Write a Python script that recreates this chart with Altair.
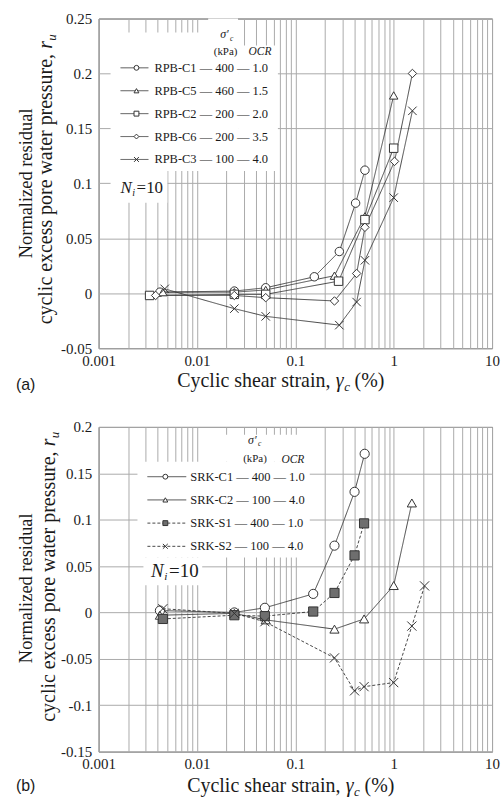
import altair as alt
import pandas as pd

SERIF = "Liberation Serif"
SANS = "Liberation Sans"
INK = "#1a1a1a"
LINE = "#333333"
X_SHAPE = "M-1,-1L1,1M-1,1L1,-1"

# ---------------- panel (a): RPB specimens ----------------
a_names = ["RPB-C1", "RPB-C5", "RPB-C2", "RPB-C6", "RPB-C3"]
a_sigma = ["400", "460", "200", "200", "100"]
a_ocr = ["1.0", "1.5", "2.0", "3.5", "4.0"]
a_strain = [
    [0.0042, 0.024, 0.05, 0.156, 0.28, 0.41, 0.51],
    [0.0045, 0.024, 0.05, 0.25, 0.51, 1.0],
    [0.0033, 0.024, 0.05, 0.275, 0.51, 1.0],
    [0.0038, 0.024, 0.05, 0.25, 0.42, 0.51, 1.02, 1.55],
    [0.0047, 0.024, 0.05, 0.28, 0.42, 0.51, 1.0, 1.55],
]
a_ru = [
    [0.001, 0.002, 0.005, 0.015, 0.038, 0.082, 0.112],
    [0.001, 0.001, 0.003, 0.016, 0.070, 0.180],
    [-0.002, -0.001, -0.001, 0.011, 0.067, 0.132],
    [-0.002, -0.002, -0.004, -0.007, 0.018, 0.060, 0.120, 0.200],
    [0.004, -0.014, -0.021, -0.029, -0.008, 0.030, 0.087, 0.166],
]
a_shapes = ["circle", "triangle-up", "square", "diamond", X_SHAPE]
a_fills = ["white"] * 5
a_dash = [[1, 0]] * 5
a_yticks = [-0.05, 0, 0.05, 0.1, 0.15, 0.2, 0.25]

# ---------------- panel (b): SRK specimens ----------------
b_names = ["SRK-C1", "SRK-C2", "SRK-S1", "SRK-S2"]
b_sigma = ["400", "100", "400", "100"]
b_ocr = ["1.0", "4.0", "1.0", "4.0"]
b_strain = [
    [0.0042, 0.024, 0.049, 0.152, 0.25, 0.40, 0.507],
    [0.0042, 0.024, 0.05, 0.25, 0.50, 1.0, 1.53],
    [0.0045, 0.024, 0.049, 0.152, 0.25, 0.40, 0.50],
    [0.0045, 0.024, 0.049, 0.25, 0.40, 0.50, 1.0, 1.53, 2.06],
]
b_ru = [
    [0.002, 0.000, 0.005, 0.020, 0.072, 0.130, 0.171],
    [-0.003, -0.001, -0.008, -0.018, -0.007, 0.029, 0.118],
    [-0.007, -0.003, -0.004, 0.001, 0.021, 0.0615, 0.096],
    [0.004, -0.001, -0.010, -0.049, -0.0845, -0.080, -0.0756, -0.0147, 0.0286],
]
b_shapes = ["circle", "triangle-up", "square", X_SHAPE]
b_fills = ["white", "white", "#6e6e6e", "white"]
b_dash = [[1, 0], [1, 0], [3, 2], [3, 2]]
b_yticks = [-0.15, -0.1, -0.05, 0, 0.05, 0.1, 0.15, 0.2]

# log-axis grid: every 1..9 multiple of each decade, labels on decades only
XT = [m * 10.0 ** e for e in range(-3, 1) for m in range(1, 10)] + [10.0]
X_LABEL = ("abs(log(datum.value)/LN10 - round(log(datum.value)/LN10)) < 1e-6"
           " ? '' + datum.value : ''")
Y_LABEL = "'' + round(datum.value * 100) / 100"

W = 395


def one():
    return alt.Chart(alt.InlineData(values=[{"k": 0}]))


def text(t, x, y, size, style="normal", align="left", baseline="alphabetic",
         angle=0, font=SERIF):
    kw = dict(text=t, fontSize=size, fontStyle=style, align=align,
              baseline=baseline, font=font, color=INK)
    if angle:
        kw["angle"] = angle
    return one().mark_text(**kw).encode(x=alt.value(x), y=alt.value(y))


def box(x1, x2, y1, y2, opacity=1):
    return one().mark_rect(color="white", opacity=opacity).encode(
        x=alt.value(x1), x2=alt.value(x2), y=alt.value(y1), y2=alt.value(y2))


def panel(names, sigma, ocr, strain, ru, shapes, fills, dashes, ydom, yticks,
          h, lay):
    rows = [{"series": n, "strain": xv, "ru": yv}
            for n, xs, ys in zip(names, strain, ru) for xv, yv in zip(xs, ys)]
    df = pd.DataFrame(rows)

    x_enc = alt.X("strain:Q",
                  scale=alt.Scale(type="log", domain=[0.001, 10], nice=False),
                  axis=alt.Axis(values=XT, labelExpr=X_LABEL, title=None,
                                ticks=False, tickSize=0, domain=False,
                                labelPadding=5, labelFlush=False,
                                labelOverlap=False, labelFont=SERIF,
                                labelFontSize=15, labelColor=INK))
    y_enc = alt.Y("ru:Q", scale=alt.Scale(domain=ydom, nice=False, zero=False),
                  axis=alt.Axis(values=yticks, labelExpr=Y_LABEL, title=None,
                                ticks=False, tickSize=0, domain=False,
                                labelPadding=7, labelFont=SERIF,
                                labelFontSize=15, labelColor=INK))
    base = alt.Chart(df).encode(x=x_enc, y=y_enc)
    lines = base.mark_line(color=LINE, strokeWidth=0.9).encode(
        detail="series:N",
        strokeDash=alt.StrokeDash("series:N",
                                  scale=alt.Scale(domain=names, range=dashes),
                                  legend=None))
    points = base.mark_point(filled=True, stroke=LINE, strokeWidth=1,
                             opacity=1, size=lay["msize"]).encode(
        shape=alt.Shape("series:N", scale=alt.Scale(domain=names, range=shapes),
                        legend=None),
        fill=alt.Fill("series:N", scale=alt.Scale(domain=names, range=fills),
                      legend=None))

    layers = [box(*lay["bbox"], opacity=0)]
    layers += [box(*b) for b in lay["boxes"]]
    layers += [lines, points]

    # legend rows
    lx1, lx2 = lay["line_x"]
    for i, (n, s, o, shp, fil, dsh) in enumerate(
            zip(names, sigma, ocr, shapes, fills, dashes)):
        y = lay["row_y0"] + lay["row_dy"] * i
        layers.append(one().mark_rule(color=LINE, strokeWidth=0.9,
                                      strokeDash=dsh).encode(
            x=alt.value(lx1), x2=alt.value(lx2), y=alt.value(y)))
        layers.append(one().mark_point(shape=shp, size=24, filled=True,
                                       fill=fil, stroke=LINE, strokeWidth=1,
                                       opacity=1).encode(
            x=alt.value(lay["mark_x"]), y=alt.value(y)))
        layers.append(text(f"{n} \u2014 {s} \u2014 {o}", lay["text_x"], y,
                           12.5, baseline="middle"))

    # legend header
    sx, sy = lay["sigma"]
    layers.append(text("\u03c3\u2032", sx, sy, 12, style="italic"))
    layers.append(text("c", sx + 10, sy + 2.5, 7.5, style="italic"))
    kx, ky = lay["kpa"]
    layers.append(text("(kPa)", kx, ky, 11, align="center"))
    ox, oy = lay["ocr"]
    layers.append(text("OCR", ox, oy, 11.5, style="italic", align="center"))

    # N_i = 10
    nx, ny, nsz = lay["ni"]
    layers.append(text("N", nx, ny, nsz, style="italic"))
    layers.append(text("i", nx + 0.7 * nsz, ny + 3, nsz * 0.6, style="italic"))
    layers.append(text("=10", nx + 0.95 * nsz, ny, nsz))

    # y-axis title (two lines, rotated)
    l1x, l1y = lay["ytitle1"]
    layers.append(text("Normalized  residual", l1x, l1y, 18.5, align="center",
                       baseline="middle", angle=270))
    l2x, l2y = lay["ytitle2"]
    layers.append(text("cyclic excess pore water pressure,", l2x, l2y, 20,
                       angle=270))
    layers.append(text("r", l2x, l2y - 276.6, 20, style="italic", angle=270))
    layers.append(text("u", l2x + 4, l2y - 284.6, 13, style="italic",
                       angle=270))

    # x-axis title
    tx, ty = lay["xtitle"]
    layers.append(text("Cyclic shear strain,", tx, ty, 20))
    layers.append(text("\u03b3", tx + 159, ty, 20, style="italic"))
    layers.append(text("c", tx + 167.5, ty + 4, 13, style="italic"))
    layers.append(text("(%)", tx + 178, ty, 20))

    # panel tag
    px, py = lay["tag"]
    layers.append(text(lay["tag_text"], px, py, 16, font=SANS))

    return alt.layer(*layers).properties(width=W, height=h)


lay_a = dict(
    bbox=(-98, 406, -16, 371),
    boxes=[(12, 140, 14, 153), (140, 180, 27, 153), (110, 140, 0, 14),
           (12, 69, 152, 185)],
    msize=72,
    line_x=(22, 50), mark_x=38, text_x=56, row_y0=49.5, row_dy=23,
    sigma=(122, 20), kpa=(127.5, 37), ocr=(162, 37),
    ni=(22, 175, 17),
    ytitle1=(-73, 165.5), ytitle2=(-47, 307),
    xtitle=(79, 370), tag=(-83, 373), tag_text="(a)",
)
lay_b = dict(
    bbox=(-98, 406, 0, 373),
    boxes=[(39, 212, 35, 131), (125, 210, 8, 35), (45, 104, 131, 159)],
    msize=85,
    line_x=(49, 88), mark_x=67, text_x=92, row_y0=50, row_dy=23.3,
    sigma=(150, 17), kpa=(157, 35), ocr=(195, 36),
    ni=(52.7, 150.7, 19),
    ytitle1=(-73, 162), ytitle2=(-44, 296),
    xtitle=(89, 367), tag=(-83, 366), tag_text="(b)",
)

chart_a = panel(a_names, a_sigma, a_ocr, a_strain, a_ru, a_shapes, a_fills,
                a_dash, [-0.05, 0.25], a_yticks, 331, lay_a)
chart_b = panel(b_names, b_sigma, b_ocr, b_strain, b_ru, b_shapes, b_fills,
                b_dash, [-0.15, 0.2], b_yticks, 326, lay_b)

chart = (
    alt.vconcat(chart_a, chart_b, spacing=79, bounds="flush")
    .resolve_scale(shape="independent", fill="independent",
                   strokeDash="independent")
    .properties(padding=0)
    .configure_view(stroke="#555555", strokeWidth=1)
    .configure_axis(labelFont=SERIF, labelFontSize=15, labelColor=INK,
                    gridColor="#aaaaaa", gridWidth=1, gridOpacity=1)
)

chart.save("out.html", embed_options={"renderer": "svg", "actions": False})
